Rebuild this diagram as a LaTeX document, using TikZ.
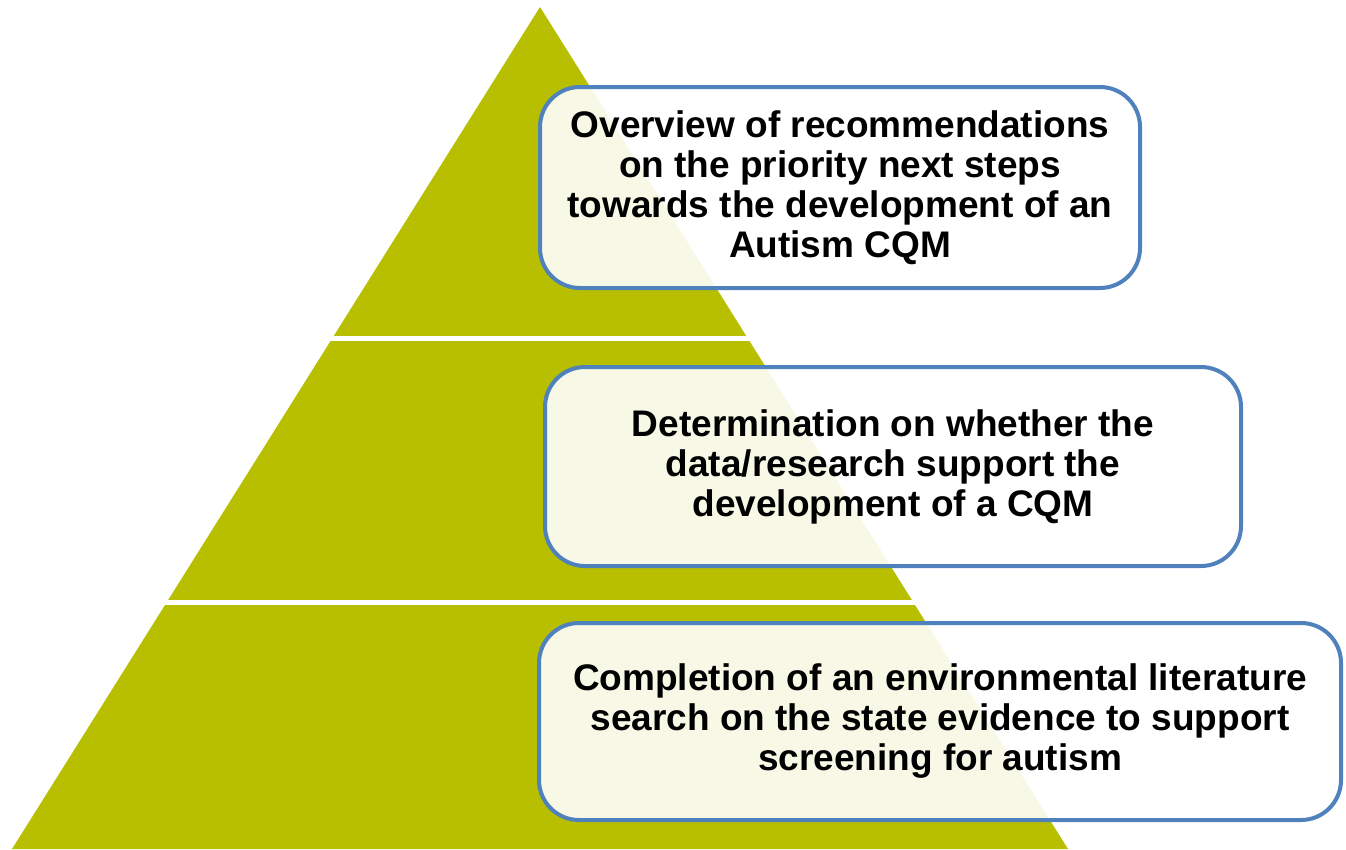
\documentclass[tikz,border=0pt]{standalone}
\usepackage{fontspec}
\setmainfont{Liberation Sans}
\usepackage{xcolor}
\definecolor{pyrgreen}{HTML}{B7BF00}
\definecolor{boxblue}{HTML}{4F81BD}
\tikzset{
  stepbox/.style={draw=boxblue, line width=4pt, rounded corners=40pt,
    fill=white, fill opacity=0.9, text opacity=1, inner sep=0pt,
    align=center, font=\fontsize{37}{40}\selectfont\bfseries},
  gap/.style={draw=white, line width=5pt}
}
\begin{document}
\begin{tikzpicture}[x=1pt,y=-1pt]
\useasboundingbox (0,0) rectangle (1346,849);
%% pyramid
\coordinate (apex) at (540,7);
\coordinate (bl) at (12,849);
\coordinate (br) at (1068,849);
\fill[pyrgreen] (apex) -- (br) -- (bl) -- cycle;
%%
\coordinate (s1l) at (330,338);
\coordinate (s1r) at (750,338);
\coordinate (s2l) at (165,602);
\coordinate (s2r) at (916,602);
\draw[gap] (s1l) -- (s1r);
\draw[gap] (s2l) -- (s2r);
%% boxes
\node[stepbox, minimum width=600pt, minimum height=201pt] (top) at (840,187.5)
  {Overview of recommendations\\on the priority next steps\\towards the development of an\\Autism CQM};
\node[stepbox, minimum width=696pt, minimum height=199pt] (mid) at (893,466.5)
  {Determination on whether the\\data/research support the\\development of a CQM};
\node[stepbox, minimum width=802pt, minimum height=197pt] (low) at (940,721.5)
  {Completion of an environmental literature\\search on the state evidence to support\\screening for autism};
\end{tikzpicture}
\end{document}
